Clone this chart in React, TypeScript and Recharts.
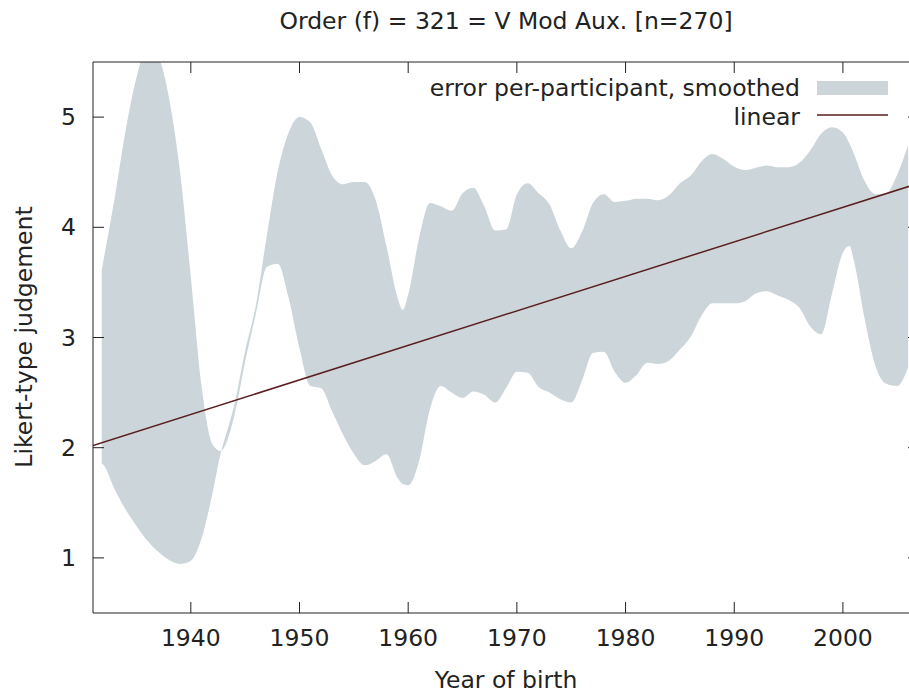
import { ComposedChart, Area, Line, XAxis, YAxis, Legend } from "recharts";

// smoothed error band (the two edges cross near 1943)
const years = [
  1931.8, 1932, 1933, 1934, 1935, 1936, 1937, 1938, 1939, 1940, 1941, 1942, 1942.8,
  1943, 1944, 1945, 1946, 1947, 1948, 1949, 1950, 1951, 1952, 1953, 1954, 1955,
  1956, 1957, 1958, 1959, 1959.5, 1960, 1961, 1962, 1963, 1964, 1965, 1966, 1967,
  1968, 1969, 1970, 1971, 1972, 1973, 1974, 1975, 1976, 1977, 1978, 1979, 1980,
  1981, 1982, 1983, 1984, 1985, 1986, 1987, 1988, 1989, 1990, 1991, 1992, 1993,
  1994, 1995, 1996, 1997, 1998, 1999, 2000, 2000.6, 2001, 2002, 2003, 2004, 2005, 2006,
];
const edgeA = [
  3.61, 3.72, 4.27, 4.88, 5.36, 5.64, 5.55, 5.17, 4.51, 3.55, 2.55, 2.03, 1.97,
  1.99, 2.29, 2.78, 3.22, 3.64, 3.67, 3.36, 2.9, 2.56, 2.54, 2.33, 2.12, 1.945,
  1.84, 1.88, 1.94, 1.73, 1.67, 1.66, 1.88, 2.35, 2.56, 2.5, 2.45, 2.51, 2.48,
  2.41, 2.54, 2.69, 2.68, 2.55, 2.5, 2.44, 2.41, 2.61, 2.86, 2.87, 2.69, 2.59,
  2.66, 2.77, 2.76, 2.79, 2.89, 3.01, 3.2, 3.31, 3.31, 3.31, 3.33, 3.4, 3.42,
  3.38, 3.34, 3.27, 3.1, 3.03, 3.4, 3.77, 3.83, 3.7, 3.17, 2.74, 2.58, 2.56, 2.73,
];
const edgeB = [
  1.86, 1.84, 1.62, 1.44, 1.29, 1.155, 1.055, 0.98, 0.945, 0.975, 1.18, 1.59, 1.97,
  2.04, 2.39, 2.88, 3.3, 3.93, 4.51, 4.86, 5.0, 4.95, 4.71, 4.47, 4.39, 4.41,
  4.41, 4.25, 3.83, 3.37, 3.25, 3.39, 3.9, 4.22, 4.19, 4.15, 4.31, 4.36, 4.19,
  3.97, 3.98, 4.3, 4.4, 4.31, 4.21, 3.97, 3.81, 3.96, 4.22, 4.3, 4.23, 4.24,
  4.26, 4.26, 4.245, 4.29, 4.4, 4.47, 4.6, 4.665, 4.62, 4.55, 4.52, 4.54, 4.56,
  4.545, 4.545, 4.585, 4.7, 4.85, 4.907, 4.86, 4.76, 4.67, 4.42, 4.3, 4.31, 4.48, 4.75,
];

// linear fit
const fitYears = [1931, 2007];
const fitValues = [2.02, 4.4];

const xTicks = [1940, 1950, 1960, 1970, 1980, 1990, 2000];
const yTicks = [1, 2, 3, 4, 5];

const title = "Order (f) = 321 = V Mod Aux. [n=270]";
const xLabel = "Year of birth";
const yLabel = "Likert-type judgement";
const bandName = "error per-participant, smoothed";
const lineName = "linear";

const FONT = "'DejaVu Sans', sans-serif";
const FS = 23.5;
const INK = "#222";
const BAND = "#ccd6da";
const FIT = "#5a1e1e";
const TICK = 11;

const bandData = years.map((year, i) => ({ year, band: [edgeA[i], edgeB[i]] }));
const fitData = fitYears.map((year, i) => ({ year, linear: fitValues[i] }));

function BottomTick({ x, y, payload }: any) {
  return (
    <g>
      <line x1={x} x2={x} y1={y} y2={y - TICK} stroke={INK} />
      <text x={x} y={y + 25} textAnchor="middle" dominantBaseline="central"
        fontSize={FS} fontFamily={FONT} fill={INK}>
        {payload.value}
      </text>
    </g>
  );
}

function TopTick({ x, y }: any) {
  return <line x1={x} x2={x} y1={y} y2={y + TICK} stroke={INK} />;
}

function LeftTick({ x, y, payload }: any) {
  return (
    <g>
      <line x1={x} x2={x + TICK} y1={y} y2={y} stroke={INK} />
      <text x={x - 17} y={y} textAnchor="end" dominantBaseline="central"
        fontSize={FS} fontFamily={FONT} fill={INK}>
        {payload.value}
      </text>
    </g>
  );
}

function RightTick({ x, y }: any) {
  return <line x1={x} x2={x - TICK} y1={y} y2={y} stroke={INK} />;
}

function KeyBox() {
  return (
    <svg width={940} height={140} style={{ display: "block" }}>
      <text x={800} y={88} textAnchor="end" dominantBaseline="central"
        fontSize={FS} fontFamily={FONT} fill={INK}>
        {bandName}
      </text>
      <rect x={817} y={81} width={71} height={14} fill={BAND} />
      <text x={800} y={117} textAnchor="end" dominantBaseline="central"
        fontSize={FS} fontFamily={FONT} fill={INK}>
        {lineName}
      </text>
      <line x1={817} x2={888} y1={115} y2={115} stroke={FIT} strokeWidth={1.5} />
    </svg>
  );
}

export default function App() {
  return (
    <div style={{ position: "absolute", left: 0, top: 0, width: 909, height: 695,
      overflow: "hidden", background: "#fff", fontFamily: FONT, color: INK }}>
      <div style={{ position: "absolute", left: 93, width: 826, top: 22,
        transform: "translateY(-50%)", textAlign: "center", fontSize: FS, lineHeight: 1 }}>
        {title}
      </div>
      <ComposedChart width={940} height={695} data={bandData}
        margin={{ top: 61, right: 20, bottom: 81, left: 92 }}>
        <XAxis xAxisId="b" dataKey="year" type="number" domain={[1931, 2007]}
          allowDataOverflow ticks={xTicks} height={1} tickSize={0} tickMargin={0}
          tickLine={false} axisLine={{ stroke: INK }} tick={<BottomTick />} />
        <XAxis xAxisId="t" orientation="top" dataKey="year" type="number"
          domain={[1931, 2007]} allowDataOverflow ticks={xTicks} height={1}
          tickSize={0} tickMargin={0} tickLine={false} axisLine={{ stroke: INK }}
          tick={<TopTick />} />
        <YAxis yAxisId="l" type="number" domain={[0.5, 5.5]} allowDataOverflow
          ticks={yTicks} width={1} tickSize={0} tickMargin={0} tickLine={false}
          axisLine={{ stroke: INK }} tick={<LeftTick />} />
        <YAxis yAxisId="r" orientation="right" type="number" domain={[0.5, 5.5]}
          allowDataOverflow ticks={yTicks} width={1} tickSize={0} tickMargin={0}
          tickLine={false} axisLine={{ stroke: INK }} tick={<RightTick />} />
        <Area xAxisId="b" yAxisId="l" dataKey="band" name={bandName} type="monotoneX"
          stroke="none" fill={BAND} fillOpacity={1} isAnimationActive={false} />
        <Line xAxisId="b" yAxisId="l" data={fitData} dataKey="linear" name={lineName}
          type="linear" stroke={FIT} strokeWidth={1.5} dot={false} activeDot={false}
          isAnimationActive={false} />
        <Legend verticalAlign="middle" align="center" layout="horizontal"
          wrapperStyle={{ left: 0, top: 0, width: 940, height: 140 }}
          content={() => <KeyBox />} />
      </ComposedChart>
      <div style={{ position: "absolute", left: 93, width: 826, top: 681,
        transform: "translateY(-50%)", textAlign: "center", fontSize: FS, lineHeight: 1 }}>
        {xLabel}
      </div>
      <div style={{ position: "absolute", left: 25, top: 337, whiteSpace: "nowrap",
        transform: "translate(-50%, -50%) rotate(-90deg)", fontSize: FS, lineHeight: 1 }}>
        {yLabel}
      </div>
    </div>
  );
}
